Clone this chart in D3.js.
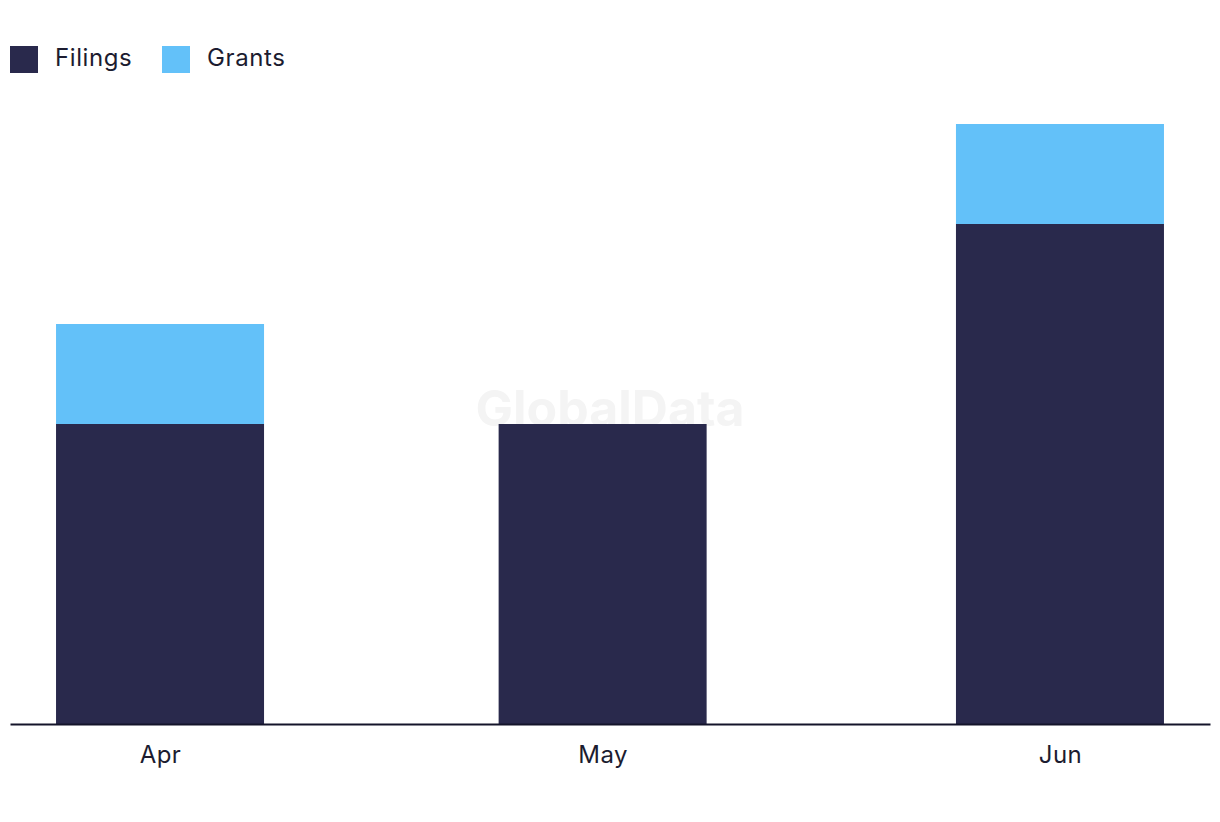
<!DOCTYPE html>
<html>
<head>
<meta charset="utf-8">
<script src="https://cdn.jsdelivr.net/npm/d3@7"></script>
<style>
  html, body { margin: 0; padding: 0; background: #ffffff; }
  svg { display: block; font-family: Inter, "Noto Sans", sans-serif; }
</style>
</head>
<body>
<svg id="chart" width="1220" height="822"></svg>
<script>
const months = ["Apr", "May", "Jun"];
const monthDates = ["2023-04-01", "2023-05-01", "2023-06-01"];
const filings = [3, 3, 5];
const grants = [1, 0, 1];
const seriesNames = ["Filings", "Grants"];
const seriesColors = ["#29294c", "#63c1f9"];

const svg = d3.select("#chart");
const dayMs = 864e5;
const dates = monthDates.map(d => new Date(d + "T00:00:00Z"));
const pad = 10.17 * dayMs;

const x = d3.scaleUtc()
  .domain([new Date(+dates[0] - pad), new Date(+dates[2] + pad)])
  .range([10, 1210]);
const y = d3.scaleLinear().domain([0, 6]).range([724, 124]);
const barW = 208;

// watermark
svg.append("text")
  .attr("x", 610).attr("y", 426)
  .attr("text-anchor", "middle")
  .attr("font-size", 50).attr("font-weight", 700)
  .attr("fill", "#f4f4f4")
  .text("GlobalData");

const data = months.map((m, i) => ({ m, date: dates[i], f: filings[i], g: grants[i] }));
const stack = d3.stack().keys(["f", "g"])(data);

svg.append("g").selectAll("g").data(stack).join("g")
  .attr("fill", (d, i) => seriesColors[i])
  .selectAll("rect").data(d => d).join("rect")
  .attr("x", d => x(d.data.date) - barW / 2)
  .attr("width", barW)
  .attr("y", d => y(d[1]))
  .attr("height", d => y(d[0]) - y(d[1]));

// axis
const axis = d3.axisBottom(x).tickValues(dates).tickSize(0).tickPadding(0)
  .tickFormat((d, i) => months[i]);
const gx = svg.append("g").attr("transform", "translate(0,724)").call(axis);
gx.select(".domain").attr("stroke", "#14142a").attr("stroke-width", 2);
gx.selectAll("text").attr("font-size", 24).attr("fill", "#1c1c30")
  .attr("font-family", "Inter, sans-serif").attr("letter-spacing", 0.4)
  .attr("dy", 0).attr("y", 39);

// legend
const lg = svg.append("g");
const lx = [10, 162];
seriesNames.forEach((n, i) => {
  lg.append("rect").attr("x", lx[i]).attr("y", 46).attr("width", 28).attr("height", 27)
    .attr("fill", seriesColors[i]);
  lg.append("text").attr("x", lx[i] + 45).attr("y", 66)
    .attr("font-size", 24).attr("letter-spacing", 0.6)
    .attr("fill", "#1c1c30").text(n);
});
</script>
</body>
</html>
